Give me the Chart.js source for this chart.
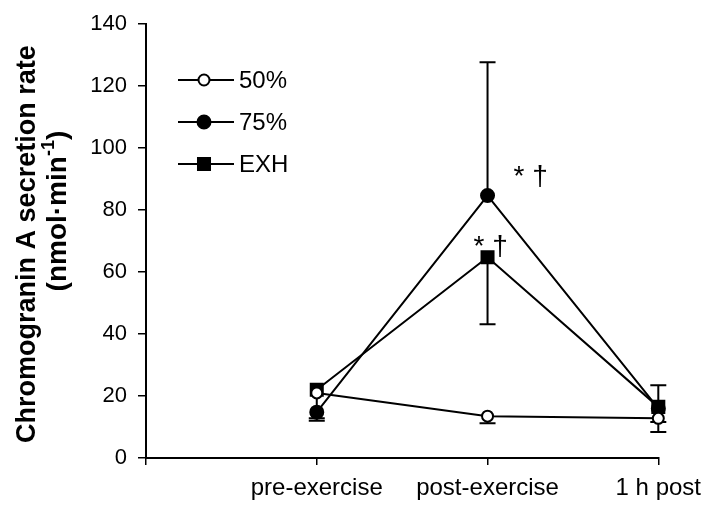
<!DOCTYPE html>
<html>
<head>
<meta charset="utf-8">
<script src="https://cdn.jsdelivr.net/npm/chart.js@4.4.1/dist/chart.umd.min.js"></script>
<style>
  html,body{margin:0;padding:0;background:#fff;}
  #wrap{width:710px;height:508px;}
</style>
</head>
<body>
<div id="wrap"><canvas id="c" width="710" height="508"></canvas></div>
<script>
// ---- data ----
const categories = ['', 'pre-exercise', 'post-exercise', '1 h post'];
const seriesNames = ['50%', '75%', 'EXH'];
const val50  = [null, 21, 13.5, 12.8];
const val75  = [null, 14.8, 84.7, 16];
const valEXH = [null, 22, 64.8, 16.5];
// error bars (one-sided)
const up50   = [null, 0, 0, 0];
const down50 = [null, 9, 2.3, 4.4];
const up75   = [null, 0, 43, 0];
const down75 = [null, 2, 0, 4.4];
const upEXH  = [null, 0, 0, 7];
const downEXH= [null, 0, 21.6, 0];
const yTicks = [0, 20, 40, 60, 80, 100, 120, 140];
const yTitleMain = 'Chromogranin A secretion rate';
const yTitleUnit = ['(nmol\u00B7min', '-1', ')'];
const sigLabels = ['* \u2020', '* \u2020'];
const sigValues = [90.5, 68];

const FONT = "'Liberation Sans', Arial, sans-serif";

const errorBars = {
  id: 'errorBars',
  beforeDatasetsDraw(chart) {
    const ctx = chart.ctx;
    const y = chart.scales.y;
    ctx.save();
    ctx.strokeStyle = '#000';
    ctx.lineWidth = 2;
    chart.data.datasets.forEach((ds, i) => {
      const meta = chart.getDatasetMeta(i);
      meta.data.forEach((pt, j) => {
        const v = ds.data[j];
        if (v == null) return;
        const u = ds.errUp[j] || 0, d = ds.errDown[j] || 0;
        const cap = 8;
        [[u, 1], [d, -1]].forEach(([e, s]) => {
          if (!e) return;
          const yy = y.getPixelForValue(v + s * e);
          ctx.beginPath();
          ctx.moveTo(pt.x, pt.y); ctx.lineTo(pt.x, yy);
          ctx.moveTo(pt.x - cap, yy); ctx.lineTo(pt.x + cap, yy);
          ctx.stroke();
        });
      });
    });
    ctx.restore();
  }
};

const decorations = {
  id: 'decorations',
  afterDraw(chart) {
    const ctx = chart.ctx;
    const area = chart.chartArea;
    ctx.save();
    // y-axis title (rotated)
    const cy = (area.top + area.bottom) / 2;
    ctx.fillStyle = '#000';
    ctx.save();
    ctx.translate(28, cy + 3);
    ctx.rotate(-Math.PI / 2);
    ctx.font = 'bold 27px ' + FONT;
    ctx.textAlign = 'center'; ctx.textBaseline = 'middle';
    ctx.fillText(yTitleMain, 0, 0);
    ctx.restore();
    ctx.save();
    ctx.translate(58, cy - 30);
    ctx.rotate(-Math.PI / 2);
    ctx.textBaseline = 'middle'; ctx.textAlign = 'left';
    const fMain = 'bold 28px ' + FONT, fSup = 'bold 18px ' + FONT;
    ctx.font = fMain; const w1 = ctx.measureText(yTitleUnit[0]).width;
    const w3 = ctx.measureText(yTitleUnit[2]).width;
    ctx.font = fSup; const w2 = ctx.measureText(yTitleUnit[1]).width;
    let xx = -(w1 + w2 + w3) / 2;
    ctx.font = fMain; ctx.fillText(yTitleUnit[0], xx, 0); xx += w1;
    ctx.font = fSup; ctx.fillText(yTitleUnit[1], xx, -9); xx += w2;
    ctx.font = fMain; ctx.fillText(yTitleUnit[2], xx, 0);
    ctx.restore();

    // legend
    const x0 = area.left + 32, rowY = [80, 122, 164];
    chart.data.datasets.forEach((ds, i) => {
      const yy = rowY[i];
      ctx.strokeStyle = '#000'; ctx.lineWidth = 2;
      ctx.beginPath(); ctx.moveTo(x0, yy); ctx.lineTo(x0 + 56, yy); ctx.stroke();
      ctx.fillStyle = ds.pointBackgroundColor; ctx.strokeStyle = '#000';
      ctx.beginPath();
      if (ds.pointStyle === 'rect') {
        const s = ds.pointRadius * Math.SQRT1_2;
        ctx.rect(x0 + 26 - s, yy - s, 2 * s, 2 * s);
      } else {
        ctx.arc(x0 + 26, yy, ds.pointRadius, 0, Math.PI * 2);
      }
      ctx.fill(); ctx.stroke();
      ctx.fillStyle = '#000';
      ctx.font = '24px ' + FONT;
      ctx.textBaseline = 'middle';
      ctx.textAlign = 'left';
      ctx.fillText(ds.label, x0 + 61, yy + 1);
    });
    // significance marks
    const xs = chart.scales.x, ys = chart.scales.y;
    const px = xs.getPixelForValue(2);
    ctx.font = '28px ' + FONT;
    ctx.textAlign = 'left';
    ctx.textBaseline = 'middle';
    ctx.fillText(sigLabels[0], px + 26, ys.getPixelForValue(sigValues[0]));
    ctx.fillText(sigLabels[1], px - 14, ys.getPixelForValue(sigValues[1]));
    ctx.restore();
  }
};

function mk(label, data, up, down, style, fill, r) {
  return {
    label, data, errUp: up, errDown: down,
    borderColor: '#000', borderWidth: 2,
    pointStyle: style, pointRadius: r, pointHoverRadius: r,
    pointBackgroundColor: fill, pointBorderColor: '#000', pointBorderWidth: 2,
    tension: 0, spanGaps: false
  };
}

new Chart(document.getElementById('c'), {
  type: 'line',
  data: {
    labels: categories,
    datasets: [
      mk(seriesNames[0], val50, up50, down50, 'circle', '#fff', 5.5),
      mk(seriesNames[1], val75, up75, down75, 'circle', '#000', 6.5),
      mk(seriesNames[2], valEXH, upEXH, downEXH, 'rect', '#000', 8.5)
    ]
  },
  options: {
    responsive: false,
    animation: false,
    devicePixelRatio: 1,
    layout: { padding: { top: 22, right: 48, left: 0, bottom: 0 } },
    plugins: { legend: { display: false }, tooltip: { enabled: false } },
    scales: {
      x: {
        type: 'category',
        offset: false,
        grid: { drawOnChartArea: false, drawTicks: true, tickLength: 7, color: '#000', lineWidth: 1.5 },
        border: { display: true, color: '#000', width: 2 },
        ticks: { color: '#000', font: { family: FONT, size: 24 }, padding: 9, maxRotation: 0, autoSkip: false },
        afterFit(s) { s.height = 50; }
      },
      y: {
        min: 0, max: 140,
        afterBuildTicks(s) { s.ticks = yTicks.map(v => ({ value: v })); },
        grid: { drawOnChartArea: false, drawTicks: true, tickLength: 8, color: '#000', lineWidth: 1.5 },
        border: { display: true, color: '#000', width: 2 },
        ticks: { color: '#000', font: { family: FONT, size: 22 }, padding: 11 },
        title: { display: false },
        afterFit(s) { s.width = 146; }
      }
    }
  },
  plugins: [errorBars, decorations]
});
</script>
</body>
</html>
